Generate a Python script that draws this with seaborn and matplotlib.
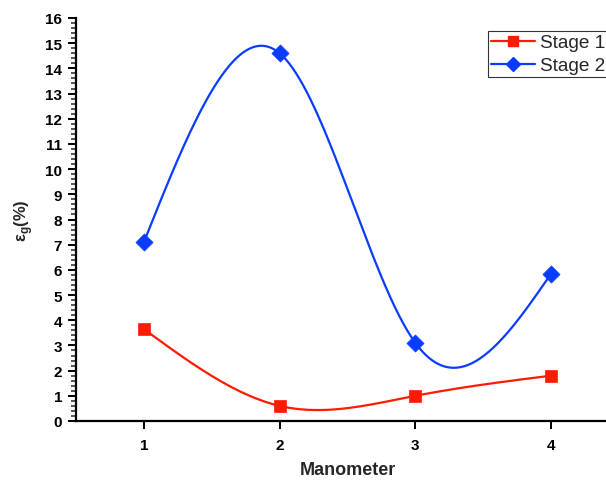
import numpy as np
import pandas as pd
import matplotlib
matplotlib.use("Agg")
import matplotlib.pyplot as plt
from matplotlib.lines import Line2D
from matplotlib.ticker import MultipleLocator
import seaborn as sns

# Données
manometers = [1, 2, 3, 4]
stage1 = [3.65, 0.6, 1.0, 1.8]
stage2 = [7.1, 14.6, 3.1, 5.85]
series_names = ["Stage 1", "Stage 2"]
colors = ["#ff1a00", "#0a3cff"]
markers = ["s", "D"]


def natural_spline(x, y, n=300):
    """Spline cubique naturelle passant par les points (courbe lissée type Origin)."""
    x = np.asarray(x, dtype=float)
    y = np.asarray(y, dtype=float)
    k = len(x)
    h = np.diff(x)
    a = np.zeros((k, k))
    b = np.zeros(k)
    a[0, 0] = a[-1, -1] = 1.0
    for i in range(1, k - 1):
        a[i, i - 1] = h[i - 1]
        a[i, i] = 2 * (h[i - 1] + h[i])
        a[i, i + 1] = h[i]
        b[i] = 6 * ((y[i + 1] - y[i]) / h[i] - (y[i] - y[i - 1]) / h[i - 1])
    m = np.linalg.solve(a, b)
    xs = np.linspace(x[0], x[-1], n)
    idx = np.clip(np.searchsorted(x, xs) - 1, 0, k - 2)
    x0, x1 = x[idx], x[idx + 1]
    hh = x1 - x0
    t0, t1 = x1 - xs, xs - x0
    ys = (m[idx] * t0**3 + m[idx + 1] * t1**3) / (6 * hh) \
        + (y[idx] / hh - m[idx] * hh / 6) * t0 \
        + (y[idx + 1] / hh - m[idx + 1] * hh / 6) * t1
    return xs, ys


sns.set_theme(style="ticks")
plt.rcParams["font.family"] = ["Liberation Sans", "DejaVu Sans"]
plt.rcParams["mathtext.fontset"] = "custom"
plt.rcParams["mathtext.rm"] = "Liberation Sans"
plt.rcParams["mathtext.bf"] = "Liberation Sans:bold"

fig = plt.figure(figsize=(6.06, 4.81), dpi=100)
ax = fig.add_axes([76 / 606, 59 / 481, 543 / 606, 403 / 481])

handles = []
for name, values, color, marker in zip(series_names, [stage1, stage2], colors, markers):
    xs, ys = natural_spline(manometers, values)
    curve = pd.DataFrame({"x": xs, "y": ys})
    sns.lineplot(data=curve, x="x", y="y", color=color, linewidth=1.6, ax=ax, legend=False)
    pts = pd.DataFrame({"x": manometers, "y": values})
    size = 64 if marker == "s" else 76
    sns.scatterplot(data=pts, x="x", y="y", color=color, marker=marker, s=size,
                    edgecolor=color, linewidth=0.5, ax=ax, legend=False, zorder=3)
    handles.append(Line2D([0], [0], color=color, linewidth=1.6, marker=marker,
                          markersize=7.5, label=name))

ax.set_xlim(0.5, 4.5)
ax.set_ylim(0, 16)
ax.set_xticks(manometers)
ax.yaxis.set_major_locator(MultipleLocator(1))
ax.yaxis.set_minor_locator(MultipleLocator(0.2))

for side in ["top", "right"]:
    ax.spines[side].set_visible(False)
for side in ["left", "bottom"]:
    ax.spines[side].set_linewidth(1.6)
    ax.spines[side].set_color("black")

ax.tick_params(axis="both", which="major", direction="out", length=6, width=1.4,
               labelsize=11, colors="black")
ax.tick_params(axis="y", which="minor", direction="out", length=3.5, width=1.1)
ax.tick_params(axis="y", which="major", pad=4)
ax.tick_params(axis="x", which="major", pad=6)
for lab in ax.get_xticklabels() + ax.get_yticklabels():
    lab.set_fontweight("bold")

ax.set_xlabel("Manometer", fontsize=13, fontweight="bold", labelpad=7)
ax.set_ylabel(r"ε$_{\mathbf{g}}$(%)", fontsize=12, fontweight="bold", labelpad=7)

leg = ax.legend(handles=handles, loc="upper left", bbox_to_anchor=(412 / 543, 390 / 403),
                frameon=True, fancybox=False, fontsize=13.7, handlelength=2.3,
                borderpad=0.15, labelspacing=0.3, handletextpad=0.3, borderaxespad=0)
leg.get_frame().set_edgecolor("black")
leg.get_frame().set_linewidth(0.8)

fig.savefig("out.png", dpi=100)
